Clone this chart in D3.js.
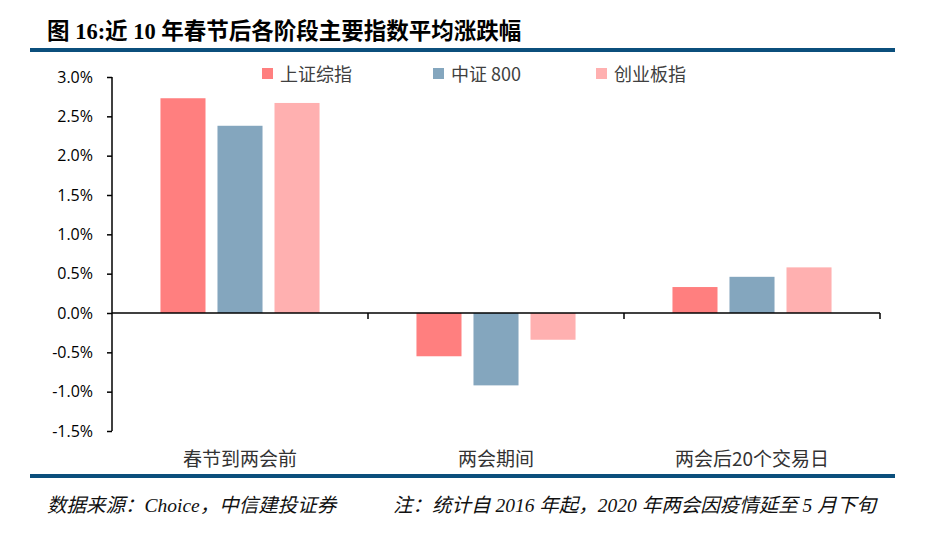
<!DOCTYPE html>
<html>
<style>
    body { margin: 0; background: #fff; }
    svg text { font-family: "Noto Sans CJK SC", "Noto Sans", sans-serif; }
    .title { font-size: 22.5px; font-weight: bold; fill: #000; font-family: "Liberation Serif", "Noto Sans CJK SC", serif; }
    .ytick text { font-family: "Open Sans", "Liberation Sans", sans-serif; font-size: 16px; fill: #000; }
    .cat { font-size: 19px; fill: #333; }
    .legend text { font-size: 18px; fill: #404040; }
    .foot { font-size: 19.5px; font-style: italic; fill: #111; font-family: "Liberation Serif", "Noto Sans CJK SC", serif; }
</style>
<body>
<svg id="viz" width="930" height="535"></svg>
<script src="https://cdnjs.cloudflare.com/ajax/libs/d3/7.8.5/d3.min.js"></script>
<script>
    var categories = ['春节到两会前', '两会期间', '两会后20个交易日'];
    var seriesNames = ['上证综指', '中证 800', '创业板指'];
    var shComposite = [2.73, -0.55, 0.33];
    var csi800 = [2.38, -0.92, 0.46];
    var chinext = [2.67, -0.34, 0.58];
    var yTicks = [3.0, 2.5, 2.0, 1.5, 1.0, 0.5, 0.0, -0.5, -1.0, -1.5];
    var colors = ['#ff7f7f', '#84a6be', '#ffb0b0'];

    var series = [shComposite, csi800, chinext];
    var svg = d3.select('#viz');

    // title and rules
    svg.append('text').attr('class', 'title').attr('x', 47).attr('y', 39)
        .text('图 16:近 10 年春节后各阶段主要指数平均涨跌幅');
    svg.append('rect').attr('x', 30).attr('y', 48).attr('width', 865).attr('height', 4).attr('fill', '#0b4f7c');
    svg.append('rect').attr('x', 30).attr('y', 474).attr('width', 865).attr('height', 4).attr('fill', '#0b4f7c');

    var x = d3.scaleBand().domain(categories).range([112, 880]);
    var x1 = d3.scaleBand().domain(d3.range(3)).range([0, x.bandwidth()]).paddingInner(0.21).paddingOuter(0.85);
    var y = d3.scaleLinear().domain([-1.5, 3.0]).range([431, 77]);

    var groups = svg.selectAll('g.grp').data(categories).enter().append('g')
        .attr('class', 'grp')
        .attr('transform', function(d) { return 'translate(' + x(d) + ',0)'; });

    groups.each(function(c, ci) {
        d3.select(this).selectAll('rect').data(series).enter().append('rect')
            .attr('x', function(s, si) { return x1(si); })
            .attr('width', x1.bandwidth())
            .attr('y', function(s) { return y(Math.max(0, s[ci])); })
            .attr('height', function(s) { return Math.abs(y(s[ci]) - y(0)); })
            .attr('fill', function(s, si) { return colors[si]; });
    });

    // y axis
    var yAxis = svg.append('g').attr('class', 'ytick').attr('transform', 'translate(112,0)')
        .call(d3.axisLeft(y).tickValues(yTicks).tickSize(5).tickPadding(14)
            .tickFormat(function(d) { return d.toFixed(1) + '%'; }));
    yAxis.selectAll('path, line').attr('stroke', '#000').attr('stroke-width', 1.5);
    yAxis.select('.domain').attr('d', 'M0,77V431');

    // x axis at zero
    var xAxis = svg.append('g').attr('transform', 'translate(0,' + y(0) + ')');
    xAxis.append('line').attr('x1', 112).attr('x2', 880).attr('stroke', '#000').attr('stroke-width', 1.5);
    xAxis.selectAll('line.tk').data(categories).enter().append('line').attr('class', 'tk')
        .attr('x1', function(d) { return x(d) + x.bandwidth(); })
        .attr('x2', function(d) { return x(d) + x.bandwidth(); })
        .attr('y1', 0).attr('y2', 6).attr('stroke', '#000').attr('stroke-width', 1.5);

    svg.selectAll('text.cat').data(categories).enter().append('text').attr('class', 'cat')
        .attr('x', function(d) { return x(d) + x.bandwidth() / 2; })
        .attr('y', 466).attr('text-anchor', 'middle')
        .text(function(d) { return d; });

    // legend
    var legX = [262, 433, 596];
    var leg = svg.selectAll('g.legend').data(seriesNames).enter().append('g').attr('class', 'legend')
        .attr('transform', function(d, i) { return 'translate(' + legX[i] + ',68)'; });
    leg.append('rect').attr('width', 11).attr('height', 11).attr('fill', function(d, i) { return colors[i]; });
    leg.append('text').attr('x', 18).attr('y', 13).text(function(d) { return d; });

    // footer
    svg.append('text').attr('class', 'foot').attr('x', 47).attr('y', 512).text('数据来源：Choice，中信建投证券');
    svg.append('text').attr('class', 'foot').attr('x', 393).attr('y', 512).text('注：统计自 2016 年起，2020 年两会因疫情延至 5 月下旬');
</script>
</body>
</html>
